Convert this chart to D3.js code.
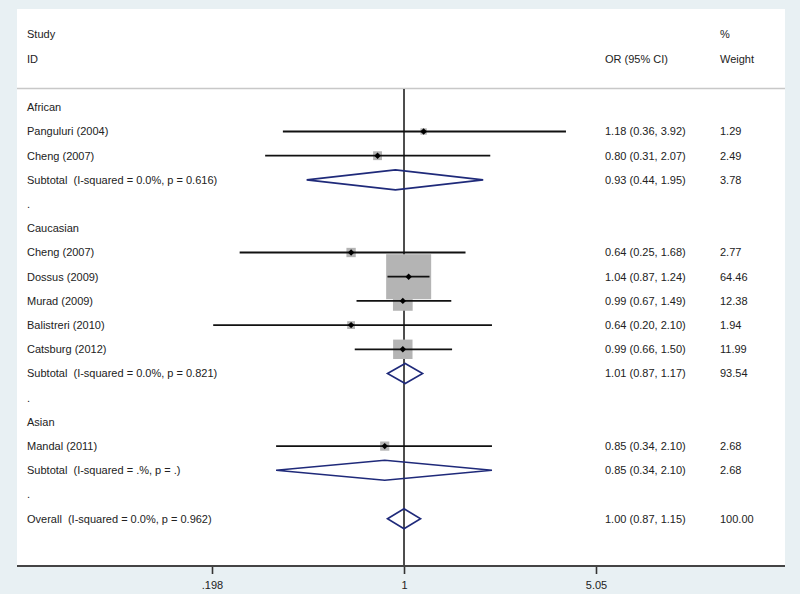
<!DOCTYPE html>
<html>
<head>
<meta charset="utf-8">
<script src="https://cdn.jsdelivr.net/npm/d3@7"></script>
<style>
  html, body { margin: 0; padding: 0; background: #e8f0f3; }
  svg { display: block; }
  text { font-family: "Liberation Sans", Arial, sans-serif; font-size: 11px; fill: #222; white-space: pre; }
</style>
</head>
<body>
<svg id="chart" width="800" height="594"></svg>
<script>
// ---- data ----
const rowLabels = [
  "African",
  "Panguluri (2004)",
  "Cheng (2007)",
  "Subtotal  (I-squared = 0.0%, p = 0.616)",
  ".",
  "Caucasian",
  "Cheng (2007)",
  "Dossus (2009)",
  "Murad (2009)",
  "Balistreri (2010)",
  "Catsburg (2012)",
  "Subtotal  (I-squared = 0.0%, p = 0.821)",
  ".",
  "Asian",
  "Mandal (2011)",
  "Subtotal  (I-squared = .%, p = .)",
  ".",
  "Overall  (I-squared = 0.0%, p = 0.962)"
];
const rowTypes = ["group","study","study","subtotal","blank","group","study","study","study","study","study","subtotal","blank","group","study","subtotal","blank","overall"];
const orValues = [null,1.18,0.80,0.93,null,null,0.64,1.04,0.99,0.64,0.99,1.01,null,null,0.85,0.85,null,1.00];
const lowerCI  = [null,0.36,0.31,0.44,null,null,0.25,0.87,0.67,0.20,0.66,0.87,null,null,0.34,0.34,null,0.87];
const upperCI  = [null,3.92,2.07,1.95,null,null,1.68,1.24,1.49,2.10,1.50,1.17,null,null,2.10,2.10,null,1.15];
const weights  = [null,1.29,2.49,3.78,null,null,2.77,64.46,12.38,1.94,11.99,93.54,null,null,2.68,2.68,null,100.00];
const tickValues = [0.198, 1, 5.05];
const tickLabels = [".198", "1", "5.05"];
const headerLeft = ["Study", "ID"];
const headerOR = "OR (95% CI)";
const headerWeight = ["%", "Weight"];

// ---- layout ----
const svg = d3.select("#chart");
const panel = {left: 17, right: 785, top: 9, bottom: 566};
const colText = 27, colOR = 605, colW = 720;

const x = d3.scaleLog().domain([0.198, 5.05]).range([212, 596]);
const y = d3.scaleLinear().domain([0, rowLabels.length - 1]).range([107.3, 518.7]);
const boxSize = d3.scaleSqrt().domain([0, 64.46]).range([0, 45]);
const diamondH = 10;

// panel
svg.append("rect")
  .attr("x", panel.left).attr("y", panel.top)
  .attr("width", panel.right - panel.left).attr("height", panel.bottom - panel.top)
  .attr("fill", "#ffffff");

// header
svg.append("text").attr("x", colText).attr("y", 34.5).attr("dy", "0.35em").text(headerLeft[0]);
svg.append("text").attr("x", colText).attr("y", 59).attr("dy", "0.35em").text(headerLeft[1]);
svg.append("text").attr("x", colOR).attr("y", 59).attr("dy", "0.35em").text(headerOR);
svg.append("text").attr("x", colW).attr("y", 34.5).attr("dy", "0.35em").text(headerWeight[0]);
svg.append("text").attr("x", colW).attr("y", 59).attr("dy", "0.35em").text(headerWeight[1]);

svg.append("line")
  .attr("x1", panel.left).attr("x2", panel.right)
  .attr("y1", 88.5).attr("y2", 88.5)
  .attr("stroke", "#c8c8c8").attr("stroke-width", 1.5);

// null line
svg.append("line")
  .attr("x1", x(1)).attr("x2", x(1))
  .attr("y1", 89).attr("y2", panel.bottom)
  .attr("stroke", "#222").attr("stroke-width", 1.6);

const rows = rowLabels.map((label, i) => ({
  label, type: rowTypes[i], or: orValues[i], lo: lowerCI[i], hi: upperCI[i], w: weights[i], i
}));
const studies = rows.filter(d => d.type === "study");
const pooled = rows.filter(d => d.type === "subtotal" || d.type === "overall");

// weight squares
svg.append("g").selectAll("rect").data(studies).join("rect")
  .attr("x", d => x(d.or) - boxSize(d.w) / 2)
  .attr("y", d => y(d.i) - boxSize(d.w) / 2)
  .attr("width", d => boxSize(d.w))
  .attr("height", d => boxSize(d.w))
  .attr("fill", "#b4b4b4");

// CI lines
svg.append("g").selectAll("line").data(studies).join("line")
  .attr("x1", d => x(d.lo)).attr("x2", d => x(d.hi))
  .attr("y1", d => y(d.i)).attr("y2", d => y(d.i))
  .attr("stroke", "#111").attr("stroke-width", 1.8);

// point estimates
svg.append("g").selectAll("path").data(studies).join("path")
  .attr("d", d => {
    const cx = x(d.or), cy = y(d.i), r = 3.2;
    return `M${cx},${cy - r}L${cx + r},${cy}L${cx},${cy + r}L${cx - r},${cy}Z`;
  })
  .attr("fill", "#000");

// pooled diamonds
svg.append("g").selectAll("path").data(pooled).join("path")
  .attr("d", d => {
    const cy = y(d.i);
    return `M${x(d.lo)},${cy}L${x(d.or)},${cy - diamondH}L${x(d.hi)},${cy}L${x(d.or)},${cy + diamondH}Z`;
  })
  .attr("fill", "none")
  .attr("stroke", "#1f2a7a")
  .attr("stroke-width", 1.6);

// labels
svg.append("g").selectAll("text").data(rows).join("text")
  .attr("x", colText).attr("y", d => y(d.i)).attr("dy", "0.35em")
  .attr("xml:space", "preserve")
  .text(d => d.label);

const withVals = rows.filter(d => d.or != null);
svg.append("g").selectAll("text").data(withVals).join("text")
  .attr("x", colOR).attr("y", d => y(d.i)).attr("dy", "0.35em")
  .text(d => `${d.or.toFixed(2)} (${d.lo.toFixed(2)}, ${d.hi.toFixed(2)})`);
svg.append("g").selectAll("text").data(withVals).join("text")
  .attr("x", colW).attr("y", d => y(d.i)).attr("dy", "0.35em")
  .text(d => d.w.toFixed(2));

// axis
const axis = d3.axisBottom(x)
  .tickValues(tickValues)
  .tickFormat((d, i) => tickLabels[i])
  .tickSize(8)
  .tickSizeOuter(0);
const ax = svg.append("g").attr("transform", `translate(0,${panel.bottom})`).call(axis);
ax.select(".domain").remove();
ax.selectAll(".tick line").attr("stroke", "#333").attr("stroke-width", 1.6);
ax.selectAll(".tick text").attr("font-size", 11).attr("fill", "#222")
  .attr("font-family", "Liberation Sans, Arial, sans-serif").attr("dy", "1.05em");
svg.append("line")
  .attr("x1", panel.left).attr("x2", panel.right)
  .attr("y1", panel.bottom).attr("y2", panel.bottom)
  .attr("stroke", "#444").attr("stroke-width", 2);
</script>
</body>
</html>
